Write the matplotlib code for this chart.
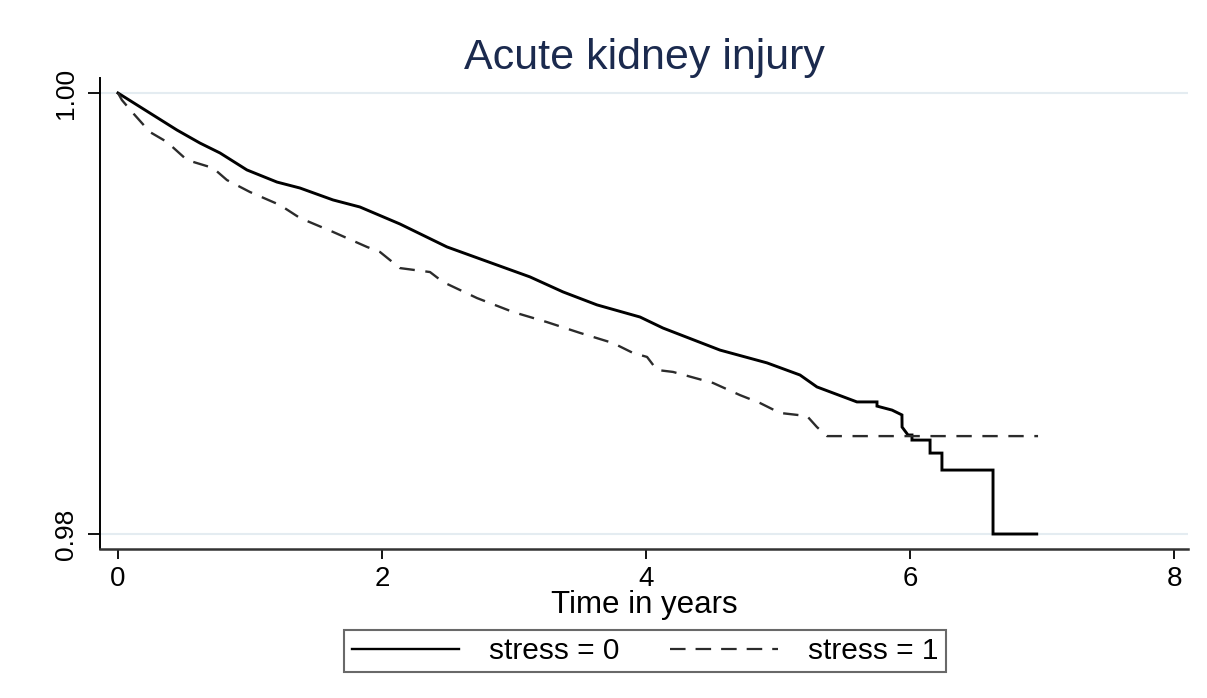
import matplotlib
matplotlib.use('Agg')
import matplotlib.pyplot as plt
from matplotlib.lines import Line2D

plt.rcParams['font.family'] = ['Liberation Sans', 'DejaVu Sans']

# Kaplan-Meier estimates (time in years, survival)
t_stress0 = [0.0, 0.242, 0.447, 0.621, 0.773, 0.977, 1.205, 1.379, 1.629, 1.833,
             2.136, 2.492, 2.871, 3.121, 3.371, 3.629, 3.955, 4.129, 4.561, 4.917,
             5.167, 5.295, 5.598, 5.750, 5.750, 5.864, 5.939, 5.940, 5.985, 6.015,
             6.015, 6.152, 6.152, 6.242, 6.242, 6.629, 6.629, 6.960]
s_stress0 = [1.0, 0.99909, 0.99832, 0.99773, 0.99728, 0.99651, 0.99596, 0.99569, 0.99515, 0.99483,
             0.99406, 0.99302, 0.99220, 0.99166, 0.99098, 0.99039, 0.98984, 0.98934, 0.98834, 0.98776,
             0.98721, 0.98667, 0.98599, 0.98599, 0.98580, 0.98562, 0.98540, 0.98485, 0.98449, 0.98449,
             0.98426, 0.98426, 0.98367, 0.98367, 0.98290, 0.98290, 0.98000, 0.98000]

t_stress1 = [0.0, 0.030, 0.114, 0.242, 0.371, 0.523, 0.720, 0.826, 1.0, 1.227,
             1.379, 1.629, 1.886, 1.985, 2.136, 2.364, 2.462, 2.720, 2.992, 3.250,
             3.5, 3.75, 3.902, 4.008, 4.083, 4.205, 4.508, 4.712, 4.864, 5.015,
             5.220, 5.295, 5.371, 6.970]
s_stress1 = [1.0, 0.99968, 0.99909, 0.99823, 0.99778, 0.99696, 0.99660, 0.99605, 0.99551, 0.99492,
             0.99433, 0.99370, 0.99302, 0.99279, 0.99206, 0.99188, 0.99143, 0.99070, 0.99007, 0.98961,
             0.98912, 0.98866, 0.98821, 0.98803, 0.98744, 0.98735, 0.98685, 0.98630, 0.98594, 0.98549,
             0.98535, 0.98485, 0.98444, 0.98444]

x_ticks = [0, 2, 4, 6, 8]
y_ticks = [0.98, 1.00]
y_tick_labels = ['0.98', '1.00']
series_labels = ['stress = 0', 'stress = 1']

fig = plt.figure(figsize=(12.07, 6.98), dpi=100)
ax = fig.add_axes([100 / 1207, 1 - 549 / 698, 1088 / 1207, 471 / 698])

ax.plot(t_stress0, s_stress0, color='black', lw=2.1, solid_joinstyle='miter')
ax.plot(t_stress1, s_stress1, color='#2b2b2b', lw=1.7, dashes=(6.5, 4.5))

ax.set_xlim(-0.136, 8.106)
ax.set_ylim(0.97932, 1.00068)
ax.set_xticks(x_ticks)
ax.set_yticks(y_ticks)
ax.set_yticklabels(y_tick_labels, rotation=90, va='center')

ax.yaxis.grid(True, color='#e4ecf1', lw=1.5)
ax.set_axisbelow(True)

for side in ['top', 'right']:
    ax.spines[side].set_visible(False)
ax.spines['left'].set_color('black')
ax.spines['left'].set_linewidth(1.4)
ax.spines['bottom'].set_color('#333333')
ax.spines['bottom'].set_linewidth(1.8)

ax.tick_params(axis='y', length=9, width=1.3, pad=7, labelsize=19, colors='black')
ax.tick_params(axis='x', length=7, width=1.3, pad=5, labelsize=20, colors='black')

ax.set_xlabel('Time in years', fontsize=22.5, labelpad=-1)
ax.set_title('Acute kidney injury', fontsize=31, color='#1b2a4e', pad=6)

handles = [Line2D([0], [0], color='black', lw=1.7),
           Line2D([0], [0], color='#2b2b2b', lw=1.6, dashes=(7, 4.5))]
leg = fig.legend(handles, series_labels, loc='center',
                 bbox_to_anchor=(645 / 1207, 1 - 651 / 698), ncol=2,
                 fontsize=21.5, frameon=True, fancybox=False, edgecolor='#444444',
                 handlelength=3.6, handletextpad=1.0, columnspacing=1.7,
                 borderpad=0.25, borderaxespad=0)
leg.get_frame().set_linewidth(1.5)

fig.savefig('out.png', dpi=100, facecolor='white')
